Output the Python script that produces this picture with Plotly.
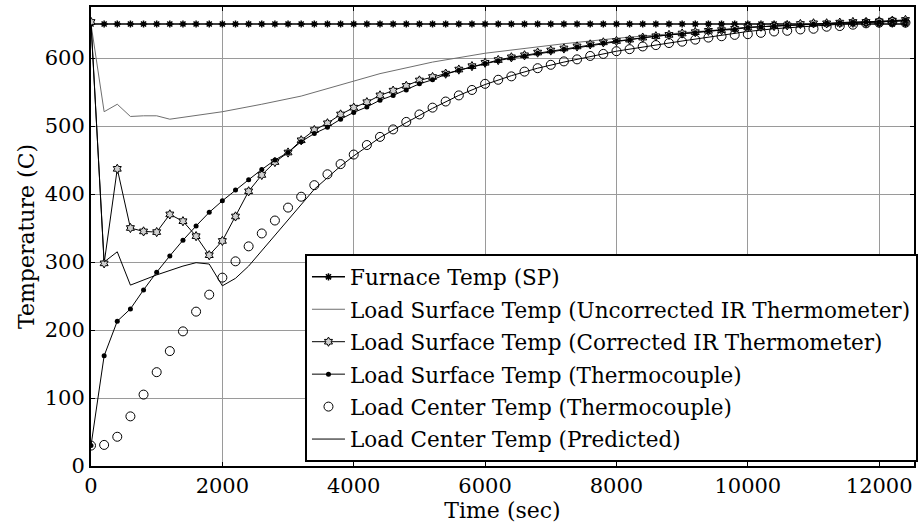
import plotly.graph_objects as go

time_s = [0, 200, 400, 600, 800, 1000, 1200, 1400, 1600, 1800,
          2000, 2200, 2400, 2600, 2800, 3000, 3200, 3400, 3600, 3800,
          4000, 4200, 4400, 4600, 4800, 5000, 5200, 5400, 5600, 5800,
          6000, 6200, 6400, 6600, 6800, 7000, 7200, 7400, 7600, 7800,
          8000, 8200, 8400, 8600, 8800, 9000, 9200, 9400, 9600, 9800,
          10000, 10200, 10400, 10600, 10800, 11000, 11200, 11400, 11600, 11800,
          12000, 12200, 12400]

furnace_sp = [650, 650, 650, 650, 650, 650, 650, 650, 650, 650,
              650, 650, 650, 650, 650, 650, 650, 650, 650, 650,
              650, 650, 650, 650, 650, 650, 650, 650, 650, 650,
              650, 650, 650, 650, 650, 650, 650, 650, 650, 650,
              650, 650, 650, 650, 650, 650, 650, 650, 650, 650,
              650, 650, 650, 650, 650, 650, 650, 650, 650, 650,
              650, 650, 650]

surface_corrected = [653, 298, 437, 350, 345, 344, 370, 360, 338, 310,
                     331, 367, 404, 428, 447, 461, 479, 494, 504, 517,
                     527, 535, 545, 552, 559, 567, 572, 577, 583, 588,
                     593, 597, 601, 604, 608, 611, 614, 617, 620, 623,
                     625, 627, 630, 632, 634, 636, 638, 640, 641, 643,
                     645, 646, 647, 648, 650, 651, 651, 652, 653, 653,
                     654, 655, 656]

surface_tc = [30, 162, 213, 231, 259, 285, 309, 332, 353, 373,
              390, 406, 421, 436, 450, 461, 477, 489, 498, 510,
              520, 528, 538, 545, 553, 562, 568, 576, 582, 587,
              592, 596, 600, 603, 607, 610, 613, 616, 619, 622,
              625, 627, 630, 632, 634, 635, 637, 640, 641, 642,
              645, 646, 647, 648, 649, 650, 651, 652, 652, 653,
              653, 654, 655]

center_tc = [30, 31, 43, 73, 105, 138, 169, 198, 227, 252,
             277, 301, 323, 342, 361, 380, 396, 413, 429, 444,
             458, 472, 484, 495, 506, 517, 527, 536, 545, 553,
             562, 568, 573, 580, 585, 590, 595, 598, 603, 606,
             610, 613, 617, 619, 622, 624, 627, 630, 632, 634,
             635, 637, 639, 640, 642, 643, 646, 647, 649, 651,
             652, 653, 652]

uncorr_time = [0, 200, 400, 600, 800, 1000, 1200, 1600, 2000, 2600, 3200,
               4000, 4400, 5200, 6000, 7200, 8000, 9000, 10000, 11000, 12000, 12400]
uncorr_temp = [650, 521, 532, 514, 515, 515, 510, 515, 521, 532, 544,
               566, 577, 594, 607, 621, 629, 637, 645, 650, 653, 655]

pred_time = [0, 200, 400, 600, 1000, 1400, 1600, 1800, 2000, 2200, 2400,
             3400, 3600, 3800, 4000, 4400, 4800, 5200, 5600, 6000, 6400,
             6800, 7200, 7600, 8000, 9000, 9600, 10000, 10400, 10800, 11200,
             11600, 12000, 12400]
pred_temp = [650, 300, 315, 266, 281, 294, 299, 297, 265, 276, 294,
             407, 424, 441, 456, 483, 505, 526, 545, 561, 574,
             585, 594, 602, 610, 625, 633, 639, 643, 646, 649,
             651, 653, 655]

x_ticks = [0, 2000, 4000, 6000, 8000, 10000, 12000]
y_ticks = [0, 100, 200, 300, 400, 500, 600]

FONT = "DejaVu Serif"

fig = go.Figure()
fig.add_trace(go.Scatter(
    x=time_s, y=furnace_sp, mode="lines+markers", name="Furnace Temp (SP)", legendgroup="g1",
    line=dict(color="black", width=1.5),
    marker=dict(symbol="asterisk-open", size=6, color="black", line=dict(width=1.5, color="black"))))
fig.add_trace(go.Scatter(
    x=uncorr_time, y=uncorr_temp, mode="lines", legendgroup="g2",
    name="Load Surface Temp (Uncorrected IR Thermometer)",
    line=dict(color="#6e6e6e", width=1)))
fig.add_trace(go.Scatter(
    x=time_s, y=surface_corrected, mode="lines+markers", legendgroup="g3",
    name="Load Surface Temp (Corrected IR Thermometer)",
    line=dict(color="black", width=1),
    marker=dict(symbol="hexagram", size=7, color="#d0d0d0", line=dict(width=1, color="black"))))
fig.add_trace(go.Scatter(
    x=time_s, y=surface_tc, mode="lines+markers", legendgroup="g4",
    name="Load Surface Temp (Thermocouple)",
    line=dict(color="black", width=1),
    marker=dict(symbol="circle", size=5, color="black")))
fig.add_trace(go.Scatter(
    x=time_s, y=center_tc, mode="markers", legendgroup="g5",
    name="Load Center Temp (Thermocouple)",
    marker=dict(symbol="circle-open", size=9, color="black", line=dict(width=1, color="black"))))
fig.add_trace(go.Scatter(
    x=pred_time, y=pred_temp, mode="lines", legendgroup="g6",
    name="Load Center Temp (Predicted)",
    line=dict(color="black", width=1)))

axis_common = dict(
    showline=True, linecolor="black", linewidth=2, mirror="ticks",
    ticks="inside", ticklen=4, tickcolor="black",
    showgrid=True, gridcolor="#9a9a9a", gridwidth=1, zeroline=False,
    tickfont=dict(family=FONT, size=21, color="black"),
    automargin=False,
)

fig.update_layout(
    width=922, height=527,
    margin=dict(l=91, r=4, t=7, b=61),
    paper_bgcolor="white", plot_bgcolor="white",
    font=dict(family=FONT, size=21, color="black"),
    showlegend=True,
    legend=dict(
        x=0.26, y=0.008, xanchor="left", yanchor="bottom",
        bgcolor="white", bordercolor="black", borderwidth=2,
        font=dict(family=FONT, size=21.5, color="black"),
        traceorder="grouped", tracegroupgap=1.5, itemwidth=33,
    ),
    xaxis=dict(range=[0, 12530], tickvals=x_ticks, tickformat="d",
               title=dict(text="Time (sec)", font=dict(family=FONT, size=22), standoff=0),
               **axis_common),
    yaxis=dict(range=[0, 675], tickvals=y_ticks, tickformat="d",
               title=dict(text="Temperature (C)", font=dict(family=FONT, size=22), standoff=4),
               **axis_common),
)

fig.write_html("out.html")
